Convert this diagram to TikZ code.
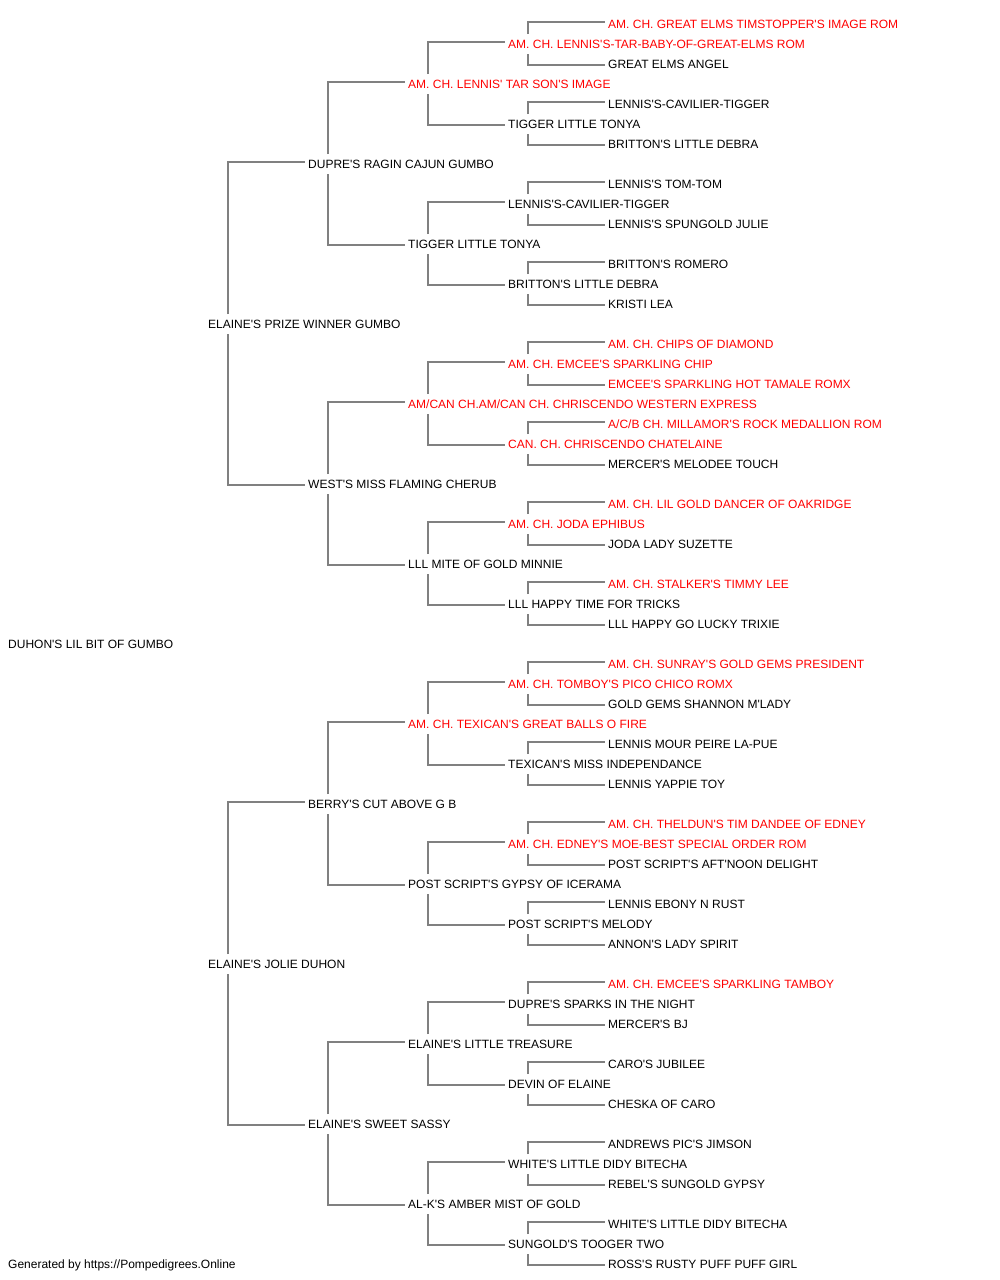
\documentclass[tikz,border=0pt]{standalone}
\usepackage{fontspec}
\newfontfamily\pf{Liberation Sans}
\definecolor{linegray}{RGB}{128,128,128}
\definecolor{chred}{RGB}{255,0,0}
\begin{document}
\begin{tikzpicture}[x=1pt,y=-1pt,
  nm/.style={anchor=west,inner sep=0pt,text height=10.2pt,text depth=0pt,font=\pf\fontsize{12pt}{14pt}\selectfont,text=black},
  ch/.style={nm,text=chred},
  link/.style={draw=linegray,line width=1.8pt}]
\useasboundingbox (0,0) rectangle (1000,1280);
% generation 0
\node[nm] (n1) at (8,643) {DUHON'S LIL BIT OF GUMBO};
% generation 1
\node[nm] (n2) at (208,323) {ELAINE'S PRIZE WINNER GUMBO};
\node[nm] (n3) at (208,963) {ELAINE'S JOLIE DUHON};
% generation 2
\node[nm] (n4) at (308,163) {DUPRE'S RAGIN CAJUN GUMBO};
\node[nm] (n5) at (308,483) {WEST'S MISS FLAMING CHERUB};
\node[nm] (n6) at (308,803) {BERRY'S CUT ABOVE G B};
\node[nm] (n7) at (308,1123) {ELAINE'S SWEET SASSY};
% generation 3
\node[ch] (n8) at (408,83) {AM. CH. LENNIS' TAR SON'S IMAGE};
\node[nm] (n9) at (408,243) {TIGGER LITTLE TONYA};
\node[ch] (n10) at (408,403) {AM/CAN CH.AM/CAN CH. CHRISCENDO WESTERN EXPRESS};
\node[nm] (n11) at (408,563) {LLL MITE OF GOLD MINNIE};
\node[ch] (n12) at (408,723) {AM. CH. TEXICAN'S GREAT BALLS O FIRE};
\node[nm] (n13) at (408,883) {POST SCRIPT'S GYPSY OF ICERAMA};
\node[nm] (n14) at (408,1043) {ELAINE'S LITTLE TREASURE};
\node[nm] (n15) at (408,1203) {AL-K'S AMBER MIST OF GOLD};
% generation 4
\node[ch] (n16) at (508,43) {AM. CH. LENNIS'S-TAR-BABY-OF-GREAT-ELMS ROM};
\node[nm] (n17) at (508,123) {TIGGER LITTLE TONYA};
\node[nm] (n18) at (508,203) {LENNIS'S-CAVILIER-TIGGER};
\node[nm] (n19) at (508,283) {BRITTON'S LITTLE DEBRA};
\node[ch] (n20) at (508,363) {AM. CH. EMCEE'S SPARKLING CHIP};
\node[ch] (n21) at (508,443) {CAN. CH. CHRISCENDO CHATELAINE};
\node[ch] (n22) at (508,523) {AM. CH. JODA EPHIBUS};
\node[nm] (n23) at (508,603) {LLL HAPPY TIME FOR TRICKS};
\node[ch] (n24) at (508,683) {AM. CH. TOMBOY'S PICO CHICO ROMX};
\node[nm] (n25) at (508,763) {TEXICAN'S MISS INDEPENDANCE};
\node[ch] (n26) at (508,843) {AM. CH. EDNEY'S MOE-BEST SPECIAL ORDER ROM};
\node[nm] (n27) at (508,923) {POST SCRIPT'S MELODY};
\node[nm] (n28) at (508,1003) {DUPRE'S SPARKS IN THE NIGHT};
\node[nm] (n29) at (508,1083) {DEVIN OF ELAINE};
\node[nm] (n30) at (508,1163) {WHITE'S LITTLE DIDY BITECHA};
\node[nm] (n31) at (508,1243) {SUNGOLD'S TOOGER TWO};
% generation 5
\node[ch] (n32) at (608,23) {AM. CH. GREAT ELMS TIMSTOPPER'S IMAGE ROM};
\node[nm] (n33) at (608,63) {GREAT ELMS ANGEL};
\node[nm] (n34) at (608,103) {LENNIS'S-CAVILIER-TIGGER};
\node[nm] (n35) at (608,143) {BRITTON'S LITTLE DEBRA};
\node[nm] (n36) at (608,183) {LENNIS'S TOM-TOM};
\node[nm] (n37) at (608,223) {LENNIS'S SPUNGOLD JULIE};
\node[nm] (n38) at (608,263) {BRITTON'S ROMERO};
\node[nm] (n39) at (608,303) {KRISTI LEA};
\node[ch] (n40) at (608,343) {AM. CH. CHIPS OF DIAMOND};
\node[ch] (n41) at (608,383) {EMCEE'S SPARKLING HOT TAMALE ROMX};
\node[ch] (n42) at (608,423) {A/C/B CH. MILLAMOR'S ROCK MEDALLION ROM};
\node[nm] (n43) at (608,463) {MERCER'S MELODEE TOUCH};
\node[ch] (n44) at (608,503) {AM. CH. LIL GOLD DANCER OF OAKRIDGE};
\node[nm] (n45) at (608,543) {JODA LADY SUZETTE};
\node[ch] (n46) at (608,583) {AM. CH. STALKER'S TIMMY LEE};
\node[nm] (n47) at (608,623) {LLL HAPPY GO LUCKY TRIXIE};
\node[ch] (n48) at (608,663) {AM. CH. SUNRAY'S GOLD GEMS PRESIDENT};
\node[nm] (n49) at (608,703) {GOLD GEMS SHANNON M'LADY};
\node[nm] (n50) at (608,743) {LENNIS MOUR PEIRE LA-PUE};
\node[nm] (n51) at (608,783) {LENNIS YAPPIE TOY};
\node[ch] (n52) at (608,823) {AM. CH. THELDUN'S TIM DANDEE OF EDNEY};
\node[nm] (n53) at (608,863) {POST SCRIPT'S AFT'NOON DELIGHT};
\node[nm] (n54) at (608,903) {LENNIS EBONY N RUST};
\node[nm] (n55) at (608,943) {ANNON'S LADY SPIRIT};
\node[ch] (n56) at (608,983) {AM. CH. EMCEE'S SPARKLING TAMBOY};
\node[nm] (n57) at (608,1023) {MERCER'S BJ};
\node[nm] (n58) at (608,1063) {CARO'S JUBILEE};
\node[nm] (n59) at (608,1103) {CHESKA OF CARO};
\node[nm] (n60) at (608,1143) {ANDREWS PIC'S JIMSON};
\node[nm] (n61) at (608,1183) {REBEL'S SUNGOLD GYPSY};
\node[nm] (n62) at (608,1223) {WHITE'S LITTLE DIDY BITECHA};
\node[nm] (n63) at (608,1263) {ROSS'S RUSTY PUFF PUFF GIRL};
% footer
\node[nm] (foot) at (8,1263) {Generated by https://Pompedigrees.Online};
% connectors
\foreach \p [evaluate=\p as \a using {int(2*\p)}, evaluate=\p as \b using {int(2*\p+1)}] in {2,...,31} {
  \draw[link] ([xshift=20pt,yshift=9pt]n\p.west) |- ([xshift=-3pt,yshift=1pt]n\a.west);
  \draw[link] ([xshift=20pt,yshift=-11pt]n\p.west) |- ([xshift=-3pt,yshift=-2pt]n\b.west);
}
\end{tikzpicture}
\end{document}
